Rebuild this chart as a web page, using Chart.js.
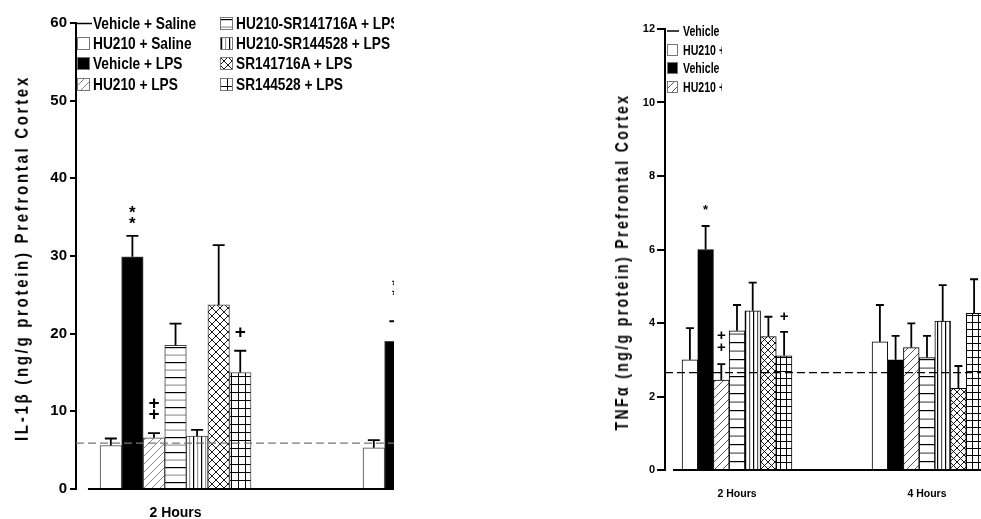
<!DOCTYPE html>
<html>
<head>
<meta charset="utf-8">
<script src="https://cdn.jsdelivr.net/npm/chart.js@4/dist/chart.umd.min.js"></script>
<style>
body { margin: 0; width: 981px; height: 519px; background: #fff; position: relative; overflow: hidden; }
.panel { position: absolute; top: 0; height: 519px; overflow: hidden; }
.panel > canvas { position: absolute; left: 0; top: 0; }
.legend { position: absolute; display: grid; grid-auto-flow: column; font-family: 'Liberation Sans', Arial, sans-serif; font-weight: bold; color: #000; white-space: nowrap; }
.legend .item { display: flex; align-items: center; }
.legend canvas { display: block; flex: none; }
.legend span { display: inline-block; }
.ytitle { position: absolute; white-space: nowrap; font-weight: bold; color: #000; font-family: 'Liberation Sans', Arial, sans-serif; }
</style>
</head>
<body>
<div class="panel" style="left:0;width:394px">
  <canvas id="il1b" width="539" height="519" style="width:539px;height:519px"></canvas>
  <div class="legend" id="il1bLegend" style="left:77px;top:13px;grid-template-rows:repeat(4,20.3px);grid-template-columns:143px auto;font-size:13.7px"></div>
</div>
<div class="ytitle" style="left:21px;top:258px;font-size:15px;letter-spacing:2.7px;transform:translate(-50%,-50%) rotate(-90deg) scaleY(1.2)">IL-1β (ng/g protein) Prefrontal Cortex</div>

<div class="panel" style="left:600px;width:381px">
  <canvas id="tnf" width="399" height="519" style="width:399px;height:519px"></canvas>
  <div style="position:absolute;left:67px;top:22px;width:55px;height:80px;overflow:hidden">
    <div class="legend" id="tnfLegend" style="left:0;top:0;grid-template-rows:repeat(4,18.5px);grid-template-columns:150px auto;font-size:10.6px"></div>
  </div>
</div>
<div class="ytitle" style="left:622px;top:262px;font-size:14px;letter-spacing:2.4px;transform:translate(-50%,-50%) rotate(-90deg) scaleY(1.25)">TNFα (ng/g protein) Prefrontal Cortex</div>

<script>
// groups on the x axis (hours after treatment)
const hours = [2, 4]
const salineName = 'Vehicle + Saline'
const seriesNames = ['HU210 + Saline', 'Vehicle + LPS', 'HU210 + LPS', 'HU210-SR141716A + LPS', 'HU210-SR144528 + LPS', 'SR141716A + LPS', 'SR144528 + LPS']
const fills = ['white', 'black', 'diag', 'horiz', 'vert', 'cross', 'grid']

// IL-1b, one row per series: [2 h, 4 h]
const il1bTicks = [0, 10, 20, 30, 40, 50, 60]
const il1bSaline = 5.9
const il1bMean = [[5.6, 5.3], [29.9, 19.0], [6.6, null], [18.5, null], [6.8, null], [23.7, null], [15.0, null]]
const il1bErr = [[6.5, 6.3], [32.6, 21.6], [7.2, null], [21.3, null], [7.6, null], [31.4, null], [17.8, null]]
// [series, hour index, symbol, value]
const il1bMarks = [[1, 0, '*', 35.9], [1, 0, '*', 34.5], [2, 0, '+', 11.0], [2, 0, '+', 9.5], [6, 0, '+', 20.1], [1, 1, '*', 26.5], [1, 1, '*', 25.2]]

// TNFa
const tnfTicks = [0, 2, 4, 6, 8, 10, 12]
const tnfSaline = 2.65
const tnfMean = [[3.0, 3.49], [6.0, 3.0], [2.45, 3.33], [3.79, 3.06], [4.33, 4.05], [3.63, 2.22], [3.11, 4.26]]
const tnfErr = [[3.86, 4.49], [6.64, 3.65], [2.88, 3.99], [4.49, 3.65], [5.1, 5.03], [4.17, 2.83], [3.76, 5.19]]
const tnfMarks = [[1, 0, '*', 7.15], [2, 0, '+', 3.65], [2, 0, '+', 3.32], [6, 0, '+', 4.16]]

const FONT = "'Liberation Sans', Arial, sans-serif"

function makeFill(kind, opt) {
    if (kind === 'white') return '#fff'
    if (kind === 'black') return '#000'
    let c = document.createElement('canvas')
    let g
    if (kind === 'diag') {
        let n = opt.diag
        c.width = n; c.height = n
        g = c.getContext('2d')
        g.fillStyle = '#fff'; g.fillRect(0, 0, n, n)
        g.strokeStyle = opt.diagColor; g.lineWidth = 1
        g.beginPath()
        g.moveTo(-1, n + 1); g.lineTo(n + 1, -1)
        g.moveTo(-1, 1); g.lineTo(1, -1)
        g.moveTo(n - 1, n + 1); g.lineTo(n + 1, n - 1)
        g.stroke()
    } else if (kind === 'horiz') {
        let n = opt.horiz
        c.width = 4; c.height = n * 2
        g = c.getContext('2d')
        g.fillStyle = '#fff'; g.fillRect(0, 0, 4, n * 2)
        g.fillStyle = '#000'; g.fillRect(0, 2, 4, 1.2)
        g.fillStyle = opt.lightLine; g.fillRect(0, 2 + n, 4, 1.2)
    } else if (kind === 'vert') {
        let n = opt.vert
        c.width = n * 2; c.height = 4
        g = c.getContext('2d')
        g.fillStyle = '#fff'; g.fillRect(0, 0, n * 2, 4)
        g.fillStyle = '#000'; g.fillRect(1, 0, 1.2, 4)
        g.fillStyle = opt.lightLine; g.fillRect(1 + n, 0, 1.2, 4)
    } else if (kind === 'cross') {
        let n = opt.cross
        c.width = n; c.height = n
        g = c.getContext('2d')
        g.fillStyle = '#fff'; g.fillRect(0, 0, n, n)
        g.strokeStyle = '#000'; g.lineWidth = 0.9
        g.beginPath()
        g.moveTo(0, 0); g.lineTo(n, n)
        g.moveTo(n, 0); g.lineTo(0, n)
        g.stroke()
    } else if (kind === 'grid') {
        let w = opt.gridW, h = opt.gridH
        c.width = w; c.height = h
        g = c.getContext('2d')
        g.fillStyle = '#fff'; g.fillRect(0, 0, w, h)
        g.fillStyle = '#000'
        g.fillRect(0, 0, w, 1); g.fillRect(0, 0, 1, h)
    }
    return g.createPattern(c, 'repeat')
}

function extras(p) {
    return {
        id: 'extras',
        afterDatasetsDraw(chart) {
            let ctx = chart.ctx
            let xs = chart.scales.x, ys = chart.scales.y
            let y0 = ys.getPixelForValue(0)
            ctx.save()
            // x axis baseline, starts a little right of the y axis
            ctx.strokeStyle = '#000'
            ctx.lineWidth = 2
            ctx.beginPath()
            ctx.moveTo(xs.getPixelForValue(p.axisStart), y0)
            ctx.lineTo(chart.chartArea.right, y0)
            ctx.stroke()

            // upper error bars
            ctx.lineWidth = p.errWidth
            p.err.forEach((row, i) => {
                let meta = chart.getDatasetMeta(i + 1)
                row.forEach((v, j) => {
                    if (v == null) return
                    let bar = meta.data[j]
                    let top = ys.getPixelForValue(v)
                    ctx.beginPath()
                    ctx.moveTo(bar.x, bar.y)
                    ctx.lineTo(bar.x, top)
                    ctx.moveTo(bar.x - p.cap, top)
                    ctx.lineTo(bar.x + p.cap, top)
                    ctx.stroke()
                })
            })

            // significance marks
            ctx.fillStyle = '#000'
            ctx.textAlign = 'center'
            ctx.textBaseline = 'middle'
            p.marks.forEach(m => {
                let bar = chart.getDatasetMeta(m[0] + 1).data[m[1]]
                ctx.font = m[2] === '*' ? p.starFont : p.plusFont
                ctx.fillText(m[2], bar.x, ys.getPixelForValue(m[3]) + (m[2] === '*' ? 3 : 0))
            })
            ctx.restore()
        }
    }
}

function drawPanel(p) {
    let ctx = document.getElementById(p.canvas).getContext('2d')
    let datasets = [{
        type: 'line',
        label: salineName,
        data: [{ x: p.xMin, y: p.saline }, { x: p.xMax, y: p.saline }],
        borderColor: p.dashColor,
        borderWidth: 1.2,
        borderDash: [8, 4],
        pointRadius: 0,
        fill: false
    }]
    seriesNames.forEach((name, i) => {
        datasets.push({
            type: 'bar',
            label: name,
            data: hours.map((h, j) => ({ x: h, y: p.mean[i][j] })),
            backgroundColor: makeFill(fills[i], p),
            borderColor: p.barBorder,
            borderWidth: 1,
            barThickness: p.barW
        })
    })

    new Chart(ctx, {
        type: 'bar',
        data: { datasets: datasets },
        options: {
            responsive: false,
            animation: false,
            layout: { padding: { top: p.top, left: 0, right: 0, bottom: 0 } },
            plugins: { legend: { display: false }, tooltip: { enabled: false } },
            scales: {
                x: {
                    type: 'linear',
                    offset: false,
                    min: p.xMin,
                    max: p.xMax,
                    grid: { display: false, offset: false },
                    border: { display: false },
                    afterBuildTicks: s => { s.ticks = hours.map(v => ({ value: v })) },
                    afterFit: s => { s.height = p.xH },
                    ticks: {
                        callback: v => v + ' Hours',
                        font: p.xFont,
                        color: '#000',
                        padding: p.xPad,
                        maxRotation: 0,
                        autoSkip: false
                    }
                },
                y: {
                    min: 0,
                    max: p.ticks[p.ticks.length - 1],
                    afterBuildTicks: s => { s.ticks = p.ticks.map(v => ({ value: v })) },
                    afterFit: s => { s.width = p.axisW },
                    grid: { drawOnChartArea: false, drawTicks: true, tickLength: p.tickLen, color: '#000', lineWidth: 2 },
                    border: { display: true, color: '#000', width: 2 },
                    ticks: { font: p.yFont, color: '#000', padding: p.yPad }
                }
            }
        },
        plugins: [extras(p)]
    })

    // legend, two columns of four
    let box = document.getElementById(p.legend)
    let names = [salineName].concat(seriesNames)
    names.forEach((name, i) => {
        let item = document.createElement('div')
        item.className = 'item'
        let c = document.createElement('canvas')
        c.width = p.swW; c.height = p.swH
        let g = c.getContext('2d')
        if (i === 0) {
            g.strokeStyle = '#000'; g.lineWidth = 1.5
            g.beginPath(); g.moveTo(0, p.swH / 2); g.lineTo(p.swW, p.swH / 2); g.stroke()
        } else {
            g.fillStyle = makeFill(fills[i - 1], p)
            g.fillRect(0.5, 0.5, p.boxW - 1, p.swH - 1)
            g.strokeStyle = '#777'; g.lineWidth = 1
            g.strokeRect(0.5, 0.5, p.boxW - 1, p.swH - 1)
        }
        let t = document.createElement('span')
        t.textContent = name
        t.style.marginLeft = p.swGap + 'px'
        t.style.transform = 'scaleY(' + p.textStretch + ')'
        item.appendChild(c)
        item.appendChild(t)
        box.appendChild(item)
    })
}

drawPanel({
    canvas: 'il1b', legend: 'il1bLegend',
    mean: il1bMean, err: il1bErr, marks: il1bMarks, saline: il1bSaline, ticks: il1bTicks,
    xMin: 1.243, xMax: 4.764, axisStart: 1.334,
    top: 23, xH: 30, axisW: 76, tickLen: 6, barW: 21.57,
    xFont: { family: FONT, size: 14, weight: 'bold' }, xPad: 8,
    yFont: { family: FONT, size: 15, weight: 'bold' }, yPad: 3,
    dashColor: '#777', barBorder: '#444', errWidth: 1.8, cap: 6,
    starFont: 'bold 17px ' + FONT, plusFont: 'bold 19px ' + FONT,
    diag: 8, diagColor: '#888', horiz: 7.5, vert: 4, cross: 8, gridW: 7, gridH: 8, lightLine: '#999',
    swW: 15, swH: 13, boxW: 13, swGap: 1, textStretch: 1.2
})

drawPanel({
    canvas: 'tnf', legend: 'tnfLegend',
    mean: tnfMean, err: tnfErr, marks: tnfMarks, saline: tnfSaline, ticks: tnfTicks,
    xMin: 1.242, xMax: 4.758, axisStart: 1.326,
    top: 29, xH: 49, axisW: 65, tickLen: 8, barW: 15.7,
    xFont: { family: FONT, size: 10.5, weight: 'bold' }, xPad: 10,
    yFont: { family: FONT, size: 11, weight: 'bold' }, yPad: 2,
    dashColor: '#000', barBorder: '#000', errWidth: 1.8, cap: 4,
    starFont: 'bold 13px ' + FONT, plusFont: 'bold 15px ' + FONT,
    diag: 8, diagColor: '#555', horiz: 8.5, vert: 4, cross: 7, gridW: 6, gridH: 7, lightLine: '#555',
    swW: 12, swH: 12, boxW: 11, swGap: 4, textStretch: 1.35
})
</script>
</body>
</html>
